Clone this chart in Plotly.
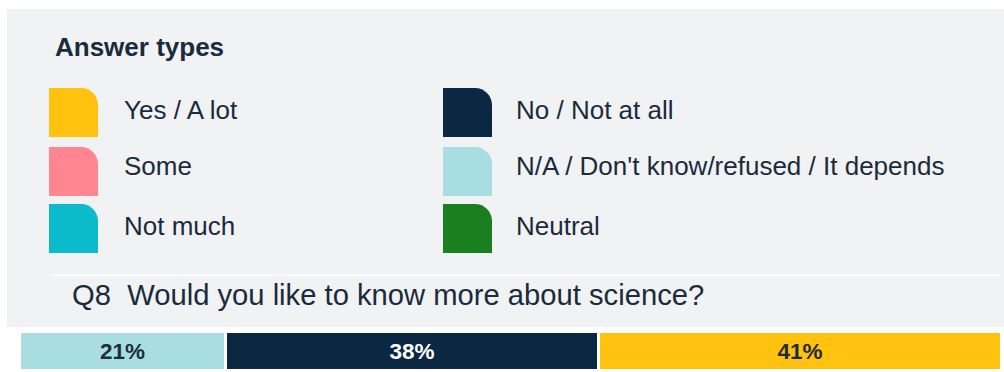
import plotly.graph_objects as go

W, H = 1004, 372

# ---- data -------------------------------------------------------------
legend_title = "Answer types"
question = "Q8&nbsp;&nbsp;Would you like to know more about science?"

answer_types = ["Yes / A lot", "Some", "Not much",
                "No / Not at all", "N/A / Don't know/refused / It depends", "Neutral"]
answer_colors = ["#FFC20E", "#FF8690", "#0BBACB",
                 "#0C2741", "#A8DEE2", "#1A7F1F"]

bar_answers = ["N/A / Don't know/refused / It depends", "No / Not at all", "Yes / A lot"]
bar_values = [21, 38, 41]
label_colors = ["#1D2D3D", "#FFFFFF", "#1D2D3D"]

# ---- styling helpers -----------------------------------------------------
FONT = "Liberation Sans, Arial, sans-serif"
TEXT = "#1A2B3C"
PANEL = "#F1F2F4"


def px(x):
    return x / W


def py(y):
    return 1 - y / H


def swatch_path(x0, y0, x1, y1, r):
    """Rectangle (pixel box) with a rounded top-right corner, in paper units."""
    k = 0.552 * r
    pts = [
        f"M {px(x0)},{py(y1)}",
        f"L {px(x0)},{py(y0)}",
        f"L {px(x1 - r)},{py(y0)}",
        f"C {px(x1 - r + k)},{py(y0)} {px(x1)},{py(y0 + r - k)} {px(x1)},{py(y0 + r)}",
        f"L {px(x1)},{py(y1)}",
        "Z",
    ]
    return " ".join(pts)


fig = go.Figure()

# stacked horizontal bar for the question
for name, val, lcol in zip(bar_answers, bar_values, label_colors):
    fig.add_trace(go.Bar(
        y=["Q8"], x=[val], orientation="h", name=name,
        marker=dict(color=answer_colors[answer_types.index(name)],
                    line=dict(color="white", width=3)),
        text=[f"{val}%"], textposition="inside", insidetextanchor="middle",
        textfont=dict(family=FONT, size=22.5, color=lcol, weight="bold"),
        width=1, hoverinfo="skip", showlegend=False,
    ))

shapes = [
    # light panel behind legend and question
    dict(type="rect", xref="paper", yref="paper", layer="below",
         x0=px(7), x1=px(1004), y0=py(327), y1=py(9),
         fillcolor=PANEL, line=dict(width=0)),
    dict(type="line", xref="paper", yref="paper", layer="below",
         x0=px(50), x1=px(1000), y0=py(275), y1=py(275),
         line=dict(color="#FAFBFC", width=2)),
]

annotations = [
    dict(text=f"<b>{legend_title}</b>", x=px(53), y=py(47), xref="paper", yref="paper",
         xanchor="left", yanchor="middle", showarrow=False,
         font=dict(family=FONT, size=26, color=TEXT)),
    dict(text=question, x=px(70), y=py(295), xref="paper", yref="paper",
         xanchor="left", yanchor="middle", showarrow=False,
         font=dict(family=FONT, size=29.2, color=TEXT)),
]

row_boxes = [(88, 137), (147, 196), (204, 253)]
row_text_y = [110, 166, 226]
col_x = [(49, 98, 122), (443, 492, 514)]

for i, (label, color) in enumerate(zip(answer_types, answer_colors)):
    c, r = divmod(i, 3)
    sx0, sx1, tx = col_x[c]
    sy0, sy1 = row_boxes[r]
    shapes.append(dict(type="path", xref="paper", yref="paper",
                       path=swatch_path(sx0, sy0, sx1, sy1, 17),
                       fillcolor=color, line=dict(width=0)))
    annotations.append(dict(text=label, x=px(tx), y=py(row_text_y[r]),
                            xref="paper", yref="paper",
                            xanchor="left", yanchor="middle", showarrow=False,
                            font=dict(family=FONT, size=26, color=TEXT)))

fig.update_layout(
    width=W, height=H,
    margin=dict(l=0, r=0, t=0, b=0),
    paper_bgcolor="white", plot_bgcolor="rgba(0,0,0,0)",
    barmode="stack", bargap=0,
    xaxis=dict(domain=[px(20), px(1002)], range=[0, 100], visible=False, fixedrange=True),
    yaxis=dict(domain=[py(371), py(332)], range=[-0.5, 0.5], visible=False, fixedrange=True),
    shapes=shapes, annotations=annotations,
    showlegend=False,
)

fig.write_html("out.html", config=dict(displayModeBar=False))
